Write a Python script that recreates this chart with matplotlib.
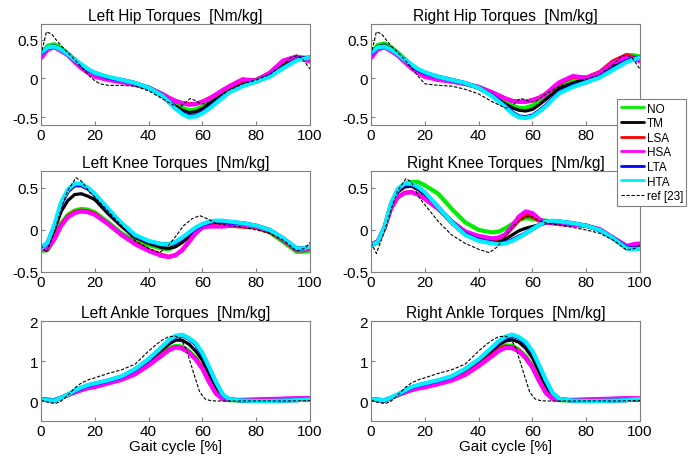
import numpy as np
import matplotlib
matplotlib.use("Agg")
import matplotlib.pyplot as plt

plt.rcParams['font.family'] = ['Liberation Sans', 'DejaVu Sans']
plt.rcParams['axes.unicode_minus'] = False

x = [0, 2.5, 5, 7.5, 10, 12.5, 15, 17.5, 20, 25, 30, 35, 40, 45, 47.5, 50, 52.5, 55, 57.5,
     60, 62.5, 65, 67.5, 70, 75, 80, 85, 90, 95, 97.5, 100]
labels = ["NO", "TM", "LSA", "HSA", "LTA", "HTA"]
colors = ["#00ee00", "#000000", "#ff0000", "#ff00ff", "#0000ff", "#00eeff"]
widths = [3.0, 2.3, 3.0, 3.0, 3.0, 3.0]

# ---------------- Left hip ----------------
lhip_NO  = [0.30,0.42,0.44,0.39,0.32,0.24,0.16,0.10,0.05,0.00,-0.03,-0.07,-0.12,-0.21,-0.27,-0.33,-0.38,-0.41,-0.40,-0.36,-0.31,-0.25,-0.20,-0.15,-0.08,-0.04,0.05,0.18,0.28,0.27,0.25]
lhip_TM  = [0.30,0.40,0.42,0.37,0.31,0.23,0.15,0.09,0.04,0.00,-0.03,-0.07,-0.12,-0.22,-0.29,-0.36,-0.41,-0.44,-0.43,-0.39,-0.33,-0.27,-0.21,-0.15,-0.07,-0.02,0.05,0.17,0.26,0.26,0.25]
lhip_LSA = [0.27,0.38,0.41,0.36,0.30,0.22,0.14,0.08,0.03,-0.01,-0.04,-0.08,-0.12,-0.20,-0.25,-0.29,-0.32,-0.33,-0.33,-0.30,-0.26,-0.21,-0.16,-0.11,-0.03,-0.02,0.07,0.22,0.28,0.25,0.23]
lhip_HSA = [0.26,0.37,0.40,0.35,0.30,0.21,0.13,0.07,0.02,-0.02,-0.05,-0.08,-0.12,-0.20,-0.25,-0.29,-0.32,-0.34,-0.33,-0.30,-0.26,-0.21,-0.15,-0.10,-0.01,-0.03,0.07,0.23,0.28,0.24,0.22]
lhip_LTA = [0.32,0.40,0.41,0.37,0.31,0.24,0.17,0.11,0.07,0.01,-0.02,-0.06,-0.12,-0.22,-0.30,-0.38,-0.45,-0.49,-0.48,-0.44,-0.38,-0.31,-0.24,-0.17,-0.09,-0.04,0.03,0.14,0.24,0.26,0.27]
lhip_HTA = [0.33,0.40,0.41,0.37,0.31,0.24,0.18,0.12,0.07,0.02,-0.02,-0.06,-0.12,-0.22,-0.30,-0.39,-0.46,-0.50,-0.49,-0.45,-0.39,-0.32,-0.25,-0.18,-0.10,-0.04,0.02,0.13,0.23,0.25,0.27]
lhip_ref_x = [0,2,4,6,8,10,12,15,18,20,22,25,30,35,40,45,48,50,52,54,55.5,57,59,61,63,66,70,75,80,85,90,93,95,97,100]
lhip_ref   = [0.30,0.60,0.57,0.48,0.40,0.33,0.26,0.15,0.03,-0.03,-0.07,-0.09,-0.09,-0.10,-0.16,-0.26,-0.32,-0.36,-0.36,-0.30,-0.26,-0.28,-0.32,-0.33,-0.30,-0.24,-0.15,-0.07,-0.02,0.05,0.18,0.27,0.29,0.26,0.12]

# ---------------- Right hip ----------------
rhip_NO  = [0.32,0.43,0.45,0.40,0.33,0.25,0.17,0.11,0.06,0.01,-0.03,-0.07,-0.12,-0.20,-0.25,-0.30,-0.35,-0.38,-0.38,-0.35,-0.29,-0.22,-0.16,-0.10,-0.03,0.00,0.07,0.20,0.30,0.30,0.28]
rhip_TM  = [0.30,0.41,0.43,0.38,0.31,0.23,0.15,0.09,0.05,0.00,-0.03,-0.07,-0.12,-0.22,-0.28,-0.33,-0.38,-0.41,-0.42,-0.40,-0.34,-0.27,-0.20,-0.13,-0.06,-0.01,0.05,0.16,0.26,0.27,0.27]
rhip_LSA = [0.27,0.38,0.41,0.36,0.30,0.22,0.14,0.08,0.03,-0.01,-0.04,-0.07,-0.11,-0.18,-0.22,-0.26,-0.29,-0.30,-0.30,-0.28,-0.25,-0.20,-0.13,-0.06,0.02,0.01,0.08,0.22,0.30,0.27,0.24]
rhip_HSA = [0.26,0.37,0.40,0.35,0.29,0.21,0.13,0.07,0.02,-0.02,-0.04,-0.07,-0.11,-0.18,-0.22,-0.26,-0.29,-0.30,-0.30,-0.28,-0.25,-0.20,-0.12,-0.05,0.03,0.01,0.07,0.20,0.28,0.25,0.22]
rhip_LTA = [0.32,0.40,0.41,0.37,0.31,0.24,0.17,0.11,0.07,0.02,-0.02,-0.06,-0.12,-0.22,-0.29,-0.36,-0.44,-0.49,-0.50,-0.48,-0.42,-0.35,-0.26,-0.18,-0.10,-0.05,0.02,0.12,0.22,0.25,0.27]
rhip_HTA = [0.33,0.40,0.41,0.37,0.31,0.24,0.18,0.12,0.08,0.02,-0.02,-0.06,-0.12,-0.23,-0.30,-0.37,-0.45,-0.50,-0.51,-0.49,-0.43,-0.36,-0.27,-0.19,-0.11,-0.05,0.01,0.11,0.21,0.24,0.27]
rhip_ref_x = [0,2,4,6,8,10,12,15,17,20,25,30,35,40,45,50,52,54,55.5,57,59,61,65,70,75,80,85,90,93,95,97,100]
rhip_ref   = [0.30,0.60,0.57,0.48,0.40,0.33,0.26,0.14,0.05,-0.07,-0.09,-0.10,-0.14,-0.20,-0.30,-0.38,-0.37,-0.30,-0.26,-0.27,-0.30,-0.30,-0.20,-0.10,-0.05,-0.01,0.05,0.18,0.28,0.30,0.27,0.12]

# ---------------- Left knee ----------------
lknee_NO  = [-0.25,-0.24,-0.10,0.08,0.18,0.23,0.25,0.24,0.21,0.09,-0.04,-0.13,-0.18,-0.22,-0.23,-0.19,-0.12,-0.04,0.02,0.05,0.06,0.07,0.07,0.06,0.05,0.03,-0.03,-0.14,-0.26,-0.26,-0.25]
lknee_TM  = [-0.22,-0.17,0.00,0.22,0.35,0.42,0.43,0.40,0.36,0.19,0.04,-0.09,-0.16,-0.21,-0.22,-0.20,-0.15,-0.08,0.00,0.04,0.06,0.06,0.06,0.06,0.05,0.03,-0.02,-0.11,-0.23,-0.22,-0.20]
lknee_LSA = [-0.23,-0.22,-0.10,0.06,0.16,0.21,0.23,0.22,0.19,0.07,-0.06,-0.16,-0.24,-0.30,-0.32,-0.30,-0.24,-0.14,-0.04,0.03,0.05,0.05,0.05,0.05,0.04,0.03,-0.02,-0.12,-0.24,-0.24,-0.22]
lknee_HSA = [-0.23,-0.22,-0.11,0.05,0.15,0.20,0.22,0.21,0.18,0.07,-0.06,-0.17,-0.25,-0.31,-0.32,-0.30,-0.24,-0.14,-0.04,0.03,0.04,0.04,0.04,0.05,0.05,0.04,-0.01,-0.11,-0.24,-0.24,-0.21]
lknee_LTA = [-0.22,-0.15,0.05,0.31,0.46,0.53,0.53,0.49,0.42,0.24,0.07,-0.07,-0.14,-0.17,-0.17,-0.15,-0.10,-0.04,0.02,0.06,0.09,0.10,0.10,0.09,0.08,0.05,0.00,-0.10,-0.22,-0.22,-0.20]
lknee_HTA = [-0.22,-0.15,0.06,0.33,0.48,0.55,0.55,0.50,0.43,0.25,0.08,-0.06,-0.13,-0.17,-0.17,-0.14,-0.09,-0.03,0.03,0.07,0.10,0.11,0.11,0.10,0.08,0.05,0.00,-0.10,-0.22,-0.22,-0.20]
lknee_ref_x = [0,2,5,8,10,13,15,18,20,25,30,35,40,44,47,50,53,56,59,62,65,70,75,80,85,90,95,98,100]
lknee_ref   = [-0.18,-0.27,-0.02,0.30,0.47,0.62,0.58,0.45,0.39,0.22,0.05,-0.13,-0.22,-0.27,-0.20,-0.08,0.05,0.13,0.17,0.13,0.08,0.05,0.03,0.00,-0.04,-0.12,-0.25,-0.22,-0.15]

# ---------------- Right knee ----------------
rknee_NO  = [-0.18,-0.15,0.02,0.30,0.47,0.55,0.57,0.57,0.53,0.43,0.25,0.09,0.00,-0.03,-0.02,0.02,0.07,0.12,0.14,0.13,0.12,0.11,0.10,0.09,0.07,0.05,0.00,-0.10,-0.21,-0.21,-0.20]
rknee_TM  = [-0.18,-0.13,0.03,0.30,0.45,0.51,0.52,0.48,0.42,0.25,0.08,-0.06,-0.12,-0.15,-0.14,-0.11,-0.06,-0.01,0.02,0.04,0.06,0.08,0.09,0.08,0.07,0.05,0.00,-0.09,-0.19,-0.20,-0.18]
rknee_LSA = [-0.17,-0.14,0.02,0.26,0.39,0.44,0.45,0.42,0.37,0.25,0.10,-0.02,-0.08,-0.11,-0.10,-0.06,0.03,0.12,0.17,0.16,0.11,0.09,0.08,0.07,0.06,0.05,0.00,-0.10,-0.20,-0.19,-0.17]
rknee_HSA = [-0.17,-0.14,0.02,0.26,0.39,0.44,0.45,0.42,0.37,0.25,0.10,-0.02,-0.07,-0.10,-0.09,-0.05,0.05,0.16,0.22,0.20,0.13,0.09,0.08,0.07,0.06,0.05,0.01,-0.09,-0.19,-0.17,-0.16]
rknee_LTA = [-0.19,-0.14,0.03,0.31,0.48,0.54,0.54,0.50,0.44,0.27,0.09,-0.05,-0.12,-0.15,-0.16,-0.15,-0.12,-0.08,-0.04,0.01,0.06,0.10,0.10,0.10,0.08,0.05,0.00,-0.10,-0.21,-0.22,-0.22]
rknee_HTA = [-0.19,-0.14,0.03,0.32,0.49,0.55,0.55,0.51,0.45,0.27,0.09,-0.06,-0.13,-0.16,-0.17,-0.16,-0.13,-0.09,-0.04,0.01,0.06,0.10,0.11,0.10,0.08,0.05,0.00,-0.10,-0.22,-0.23,-0.22]
rknee_ref_x = [0,2,5,8,10,13,15,18,20,25,30,35,40,44,47,50,53,56,59,62,65,70,75,80,85,90,95,98,100]
rknee_ref   = [-0.15,-0.28,-0.02,0.30,0.47,0.61,0.57,0.38,0.30,0.10,-0.06,-0.16,-0.23,-0.27,-0.20,-0.07,0.05,0.13,0.17,0.12,0.08,0.06,0.03,0.00,-0.04,-0.12,-0.24,-0.22,-0.18]

# ---------------- Left ankle ----------------
lank_NO  = [0.05,0.03,0.02,0.08,0.15,0.22,0.29,0.34,0.38,0.46,0.55,0.70,0.92,1.18,1.31,1.38,1.36,1.25,1.08,0.85,0.52,0.22,0.06,0.02,0.01,0.01,0.02,0.03,0.04,0.04,0.05]
lank_TM  = [0.04,0.02,0.01,0.08,0.16,0.24,0.31,0.37,0.41,0.49,0.58,0.75,1.00,1.28,1.42,1.52,1.52,1.42,1.25,1.02,0.68,0.35,0.10,0.03,0.01,0.01,0.02,0.02,0.03,0.03,0.04]
lank_LSA = [0.05,0.03,0.02,0.08,0.15,0.22,0.28,0.33,0.36,0.45,0.54,0.68,0.90,1.15,1.28,1.35,1.32,1.22,1.05,0.82,0.48,0.20,0.05,0.03,0.02,0.03,0.04,0.05,0.06,0.06,0.06]
lank_HSA = [0.05,0.03,0.02,0.08,0.15,0.21,0.27,0.32,0.35,0.44,0.53,0.67,0.89,1.14,1.27,1.34,1.31,1.21,1.04,0.81,0.47,0.19,0.05,0.03,0.03,0.04,0.05,0.06,0.07,0.07,0.07]
lank_LTA = [0.04,0.02,0.01,0.08,0.16,0.25,0.33,0.39,0.43,0.51,0.61,0.79,1.03,1.34,1.50,1.61,1.64,1.56,1.42,1.17,0.82,0.46,0.16,0.04,0.01,0.00,0.00,0.01,0.02,0.03,0.04]
lank_HTA = [0.04,0.02,0.01,0.08,0.16,0.26,0.34,0.40,0.44,0.52,0.62,0.80,1.05,1.36,1.52,1.63,1.66,1.57,1.45,1.20,0.85,0.48,0.17,0.04,0.01,0.00,0.00,0.01,0.02,0.03,0.04]
lank_ref_x = [0,3,5,7,10,13,15,18,20,25,30,35,40,43,45,47.5,50,52,54,56.5,59,61,63,65,70,80,90,100]
lank_ref   = [0.02,-0.04,-0.06,-0.03,0.15,0.35,0.45,0.54,0.58,0.69,0.78,0.92,1.25,1.42,1.52,1.61,1.62,1.55,1.30,0.75,0.22,0.05,0.01,0.00,0.00,0.00,0.00,0.01]

# ---------------- Right ankle ----------------
rank_NO  = [0.05,0.03,0.02,0.08,0.15,0.22,0.29,0.34,0.38,0.46,0.55,0.70,0.92,1.18,1.31,1.39,1.38,1.28,1.12,0.88,0.55,0.24,0.07,0.02,0.01,0.01,0.02,0.03,0.04,0.04,0.05]
rank_TM  = [0.04,0.02,0.01,0.08,0.16,0.24,0.31,0.37,0.41,0.49,0.58,0.74,0.98,1.26,1.40,1.50,1.53,1.47,1.32,1.08,0.74,0.38,0.12,0.03,0.02,0.02,0.02,0.02,0.03,0.03,0.04]
rank_LSA = [0.05,0.03,0.02,0.08,0.15,0.22,0.28,0.33,0.36,0.45,0.54,0.68,0.90,1.15,1.28,1.36,1.34,1.25,1.08,0.85,0.51,0.21,0.06,0.03,0.02,0.03,0.04,0.05,0.06,0.06,0.06]
rank_HSA = [0.04,0.03,0.02,0.08,0.15,0.21,0.27,0.31,0.34,0.42,0.51,0.65,0.87,1.12,1.25,1.33,1.32,1.24,1.07,0.84,0.50,0.20,0.05,0.03,0.03,0.04,0.05,0.06,0.07,0.07,0.07]
rank_LTA = [0.04,0.02,0.01,0.08,0.16,0.25,0.34,0.39,0.43,0.51,0.61,0.79,1.02,1.32,1.48,1.59,1.63,1.58,1.45,1.22,0.87,0.50,0.19,0.05,0.01,0.00,0.00,0.01,0.02,0.03,0.04]
rank_HTA = [0.05,0.03,0.02,0.09,0.17,0.26,0.35,0.40,0.44,0.52,0.62,0.80,1.04,1.34,1.50,1.61,1.66,1.60,1.48,1.25,0.90,0.52,0.20,0.05,0.01,0.00,0.00,0.01,0.02,0.04,0.05]
rank_ref_x = [0,3,5,7,10,13,15,18,20,25,30,35,40,43,45,47.5,50,52,54,56.5,59,61,63,65,70,80,90,100]
rank_ref   = [0.02,-0.04,-0.06,-0.03,0.15,0.35,0.45,0.54,0.58,0.69,0.78,0.92,1.25,1.42,1.52,1.61,1.62,1.55,1.30,0.75,0.22,0.05,0.01,0.00,0.00,0.00,0.00,0.01]

titles = ["Left Hip Torques  [Nm/kg]", "Right Hip Torques  [Nm/kg]",
          "Left Knee Torques  [Nm/kg]", "Right Knee Torques  [Nm/kg]",
          "Left Ankle Torques  [Nm/kg]", "Right Ankle Torques  [Nm/kg]"]

panels = [
    ([lhip_NO, lhip_TM, lhip_LSA, lhip_HSA, lhip_LTA, lhip_HTA], lhip_ref_x, lhip_ref),
    ([rhip_NO, rhip_TM, rhip_LSA, rhip_HSA, rhip_LTA, rhip_HTA], rhip_ref_x, rhip_ref),
    ([lknee_NO, lknee_TM, lknee_LSA, lknee_HSA, lknee_LTA, lknee_HTA], lknee_ref_x, lknee_ref),
    ([rknee_NO, rknee_TM, rknee_LSA, rknee_HSA, rknee_LTA, rknee_HTA], rknee_ref_x, rknee_ref),
    ([lank_NO, lank_TM, lank_LSA, lank_HSA, lank_LTA, lank_HTA], lank_ref_x, lank_ref),
    ([rank_NO, rank_TM, rank_LSA, rank_HSA, rank_LTA, rank_HTA], rank_ref_x, rank_ref),
]

ylims = [(-0.6, 0.7), (-0.6, 0.7), (-0.5, 0.7), (-0.5, 0.7), (-0.5, 2.0), (-0.5, 2.0)]
yticks = [[-0.5, 0, 0.5], [-0.5, 0, 0.5], [-0.5, 0, 0.5], [-0.5, 0, 0.5], [0, 1, 2], [0, 1, 2]]
yticklabels = [["-0.5", "0", "0.5"]] * 4 + [["0", "1", "2"]] * 2
xticks = [0, 20, 40, 60, 80, 100]

W, H = 691, 460
fig = plt.figure(figsize=(W / 100, H / 100), dpi=100)

lefts = [41, 371]
width = 269
rows = [(25, 126), (172, 273), (322, 422)]

handles = None
for i, (series, rx, rv) in enumerate(panels):
    r, c = divmod(i, 2)
    top, bot = rows[r]
    ax = fig.add_axes([lefts[c] / W, 1 - bot / H, width / W, (bot - top) / H])
    hs = []
    for s, lab, col, lw in zip(series, labels, colors, widths):
        h, = ax.plot(x, s, color=col, lw=lw, label=lab, solid_capstyle='round', solid_joinstyle='round')
        hs.append(h)
    h, = ax.plot(rx, rv, color='black', lw=0.8, ls=(0, (3, 1.5)), label='ref [23]')
    hs.append(h)
    if handles is None:
        handles = hs
    ax.set_xlim(0, 100)
    ax.set_ylim(*ylims[i])
    ax.set_xticks(xticks)
    xl = [str(t) for t in xticks]
    if i == 1:
        xl[-1] = ""  # hidden under the legend in the original
    ax.set_xticklabels(xl)
    ax.set_yticks(yticks[i])
    ax.set_yticklabels(yticklabels[i])
    ax.tick_params(direction='in', labelsize=11, length=3, color='#808080', pad=2)
    for sp in ax.spines.values():
        sp.set_color('#808080')
        sp.set_linewidth(0.8)
    ax.set_title(titles[i], fontsize=11.2, pad=3)
    if r == 2:
        ax.set_xlabel("Gait cycle [%]", fontsize=11, labelpad=1)

leg = fig.legend(handles=handles, loc='upper left', bbox_to_anchor=(617 / W, 1 - 100 / H),
                 fontsize=8.5, frameon=True, fancybox=False, framealpha=1, edgecolor='#808080',
                 handlelength=2.0, handletextpad=0.2, labelspacing=0.22, borderpad=0.3,
                 borderaxespad=0)
leg.get_frame().set_linewidth(0.8)
for lh in leg.get_lines()[:6]:
    lh.set_linewidth(2.0)

fig.savefig("out.png", dpi=100)
